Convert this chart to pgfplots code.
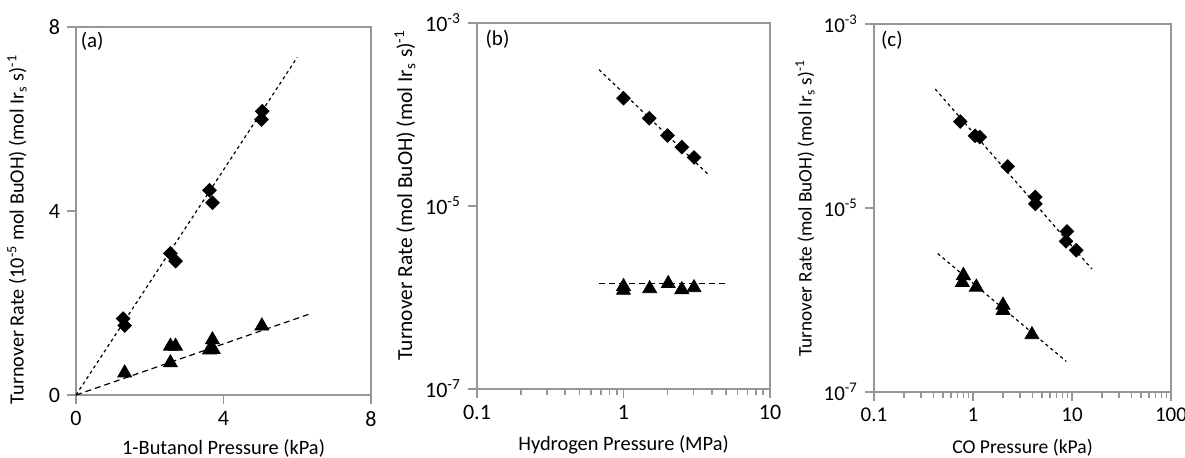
\documentclass[border=0pt]{standalone}
\usepackage{pgfplots}
\pgfplotsset{compat=1.18}
\usepackage{fontspec}
\setmainfont{Carlito}
\definecolor{axgray}{RGB}{150,150,150}
\tikzset{fs/.style={font=\fontsize{#1}{#1}\selectfont}}
\pgfplotsset{
  panel/.style={
    scale only axis,
    axis line style={axgray, line width=0.8pt},
    tick style={axgray, line width=0.8pt},
    major tick length=4.5pt,
    tick align=outside,
    tick pos=left,
    /pgf/number format/assume math mode=true,
    clip=false,
  },
  dia/.style={only marks, mark=square*, mark size=2.4pt, mark options={rotate=45, fill=black, draw=black}},
  tri/.style={only marks, mark=triangle*, mark size=4pt, mark options={fill=black, draw=black}},
  fitA/.style={black, line width=0.6pt, dash pattern=on 1.6pt off 1.6pt, mark=none},
  fitB/.style={black, line width=0.6pt, dash pattern=on 3pt off 2pt, mark=none},
}
\begin{document}
\begin{tikzpicture}
\useasboundingbox (0,0) rectangle (592.5pt,228.5pt);
% ---------- (a)
\begin{axis}[panel, at={(38pt,31pt)}, anchor=south west,
  width=147.5pt, height=184pt,
  xmin=0, xmax=8, ymin=0, ymax=8,
  xtick={0,4,8}, ytick={0,4,8},
  every tick label/.append style={fs=11},
  xlabel={1-Butanol Pressure (kPa)},
  ylabel={Turnover Rate (10\textsuperscript{-5} mol BuOH) (mol Ir\textsubscript{s} s)\textsuperscript{-1}},
  xlabel style={fs=10.2, at={(axis description cs:0.5,-0.144)}, anchor=center},
  ylabel style={fs=10.1, at={(axis description cs:-0.2,0.45)}, anchor=center},
]
\addplot[fitA] coordinates {(0,0) (6.0,7.34)};
\addplot[fitB] coordinates {(0,0) (6.37,1.77)};
\addplot[dia] coordinates {(1.28,1.66) (1.32,1.51) (2.56,3.08) (2.70,2.91) (3.62,4.45) (3.70,4.18) (5.05,6.17) (5.03,5.99)};
\addplot[tri] coordinates {(1.32,0.48) (2.56,1.06) (2.70,1.06) (2.56,0.70) (3.62,0.98) (3.72,0.99) (3.70,1.20) (5.04,1.50)};
\node[anchor=center, fs=10.5] at (axis description cs:0.055,0.96) {(a)};
\end{axis}
% ---------- (b)
\begin{axis}[panel, at={(238.5pt,34pt)}, anchor=south west,
  width=146.5pt, height=183pt,
  xmode=log, ymode=log,
  xmin=0.1, xmax=10, ymin=1e-7, ymax=1e-3,
  xtick={0.1,1,10}, xticklabels={0.1,1,10},
  ytick={1e-7,1e-5,1e-3}, yticklabels={10\textsuperscript{-7},10\textsuperscript{-5},10\textsuperscript{-3}},
  minor xtick={}, minor ytick={},
  every tick label/.append style={fs=11},
  xlabel={Hydrogen Pressure (MPa)},
  ylabel={Turnover Rate (mol BuOH) (mol Ir\textsubscript{s} s)\textsuperscript{-1}},
  xlabel style={fs=10.2, at={(axis description cs:0.5,-0.153)}, anchor=center},
  ylabel style={fs=10.7, at={(axis description cs:-0.246,0.53)}, anchor=center},
]
\addplot[fitA] coordinates {(0.68,3.1e-4) (3.8,2.2e-5)};
\addplot[fitB] coordinates {(0.68,1.41e-6) (5.0,1.41e-6)};
\addplot[dia] coordinates {(1.0,1.51e-4) (1.5,9.1e-5) (2.0,5.9e-5) (2.5,4.4e-5) (3.03,3.4e-5)};
\addplot[tri] coordinates {(1.0,1.32e-6) (1.0,1.2e-6) (1.51,1.25e-6) (2.02,1.42e-6) (2.5,1.22e-6) (3.03,1.28e-6)};
\node[anchor=center, fs=10.5] at (axis description cs:0.07,0.955) {(b)};
\end{axis}
% ---------- (c)
\begin{axis}[panel, at={(437pt,32.5pt)}, anchor=south west,
  width=148.5pt, height=184pt,
  xmode=log, ymode=log,
  xmin=0.1, xmax=100, ymin=1e-7, ymax=1e-3,
  xtick={0.1,1,10,100}, xticklabels={0.1,1,10,100},
  ytick={1e-7,1e-5,1e-3}, yticklabels={10\textsuperscript{-7},10\textsuperscript{-5},10\textsuperscript{-3}},
  minor xtick={}, minor ytick={},
  every tick label/.append style={fs=10.5},
  xlabel={CO Pressure (kPa)},
  ylabel={Turnover Rate (mol BuOH) (mol Ir\textsubscript{s} s)\textsuperscript{-1}},
  xlabel style={fs=9.8, at={(axis description cs:0.5,-0.152)}, anchor=center},
  ylabel style={fs=9.6, at={(axis description cs:-0.232,0.5)}, anchor=center},
]
\addplot[fitA] coordinates {(0.416,1.96e-4) (15.9,2.17e-6)};
\addplot[fitA] coordinates {(0.44,3.2e-6) (8.76,2.15e-7)};
\addplot[dia] coordinates {(0.744,8.7e-5) (1.05,6.1e-5) (1.17,5.9e-5) (2.24,2.83e-5) (4.26,1.32e-5) (4.26,1.11e-5) (8.9,5.57e-6) (8.7,4.34e-6) (11.05,3.48e-6)};
\addplot[tri] coordinates {(0.80,1.85e-6) (0.78,1.55e-6) (1.08,1.38e-6) (2.01,8.8e-7) (2.01,7.7e-7) (3.94,4.2e-7)};
\node[anchor=center, fs=10.5] at (axis description cs:0.06,0.955) {(c)};
\end{axis}
\end{tikzpicture}
\end{document}
